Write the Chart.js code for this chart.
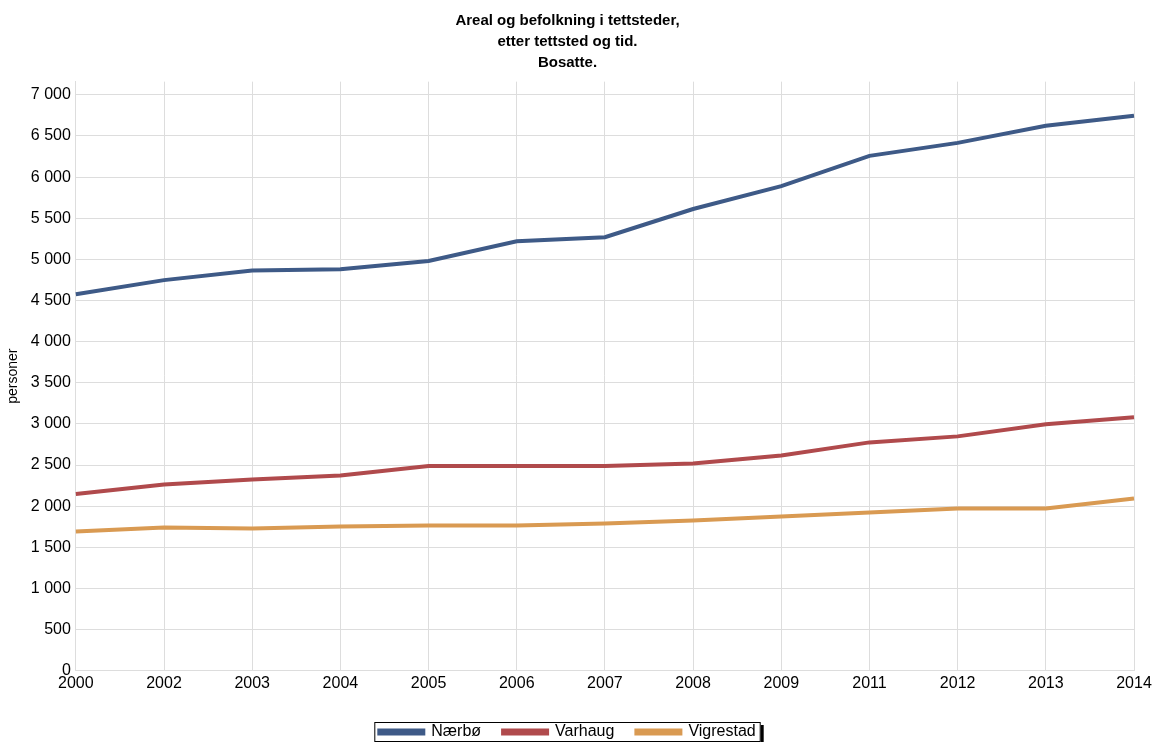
<!DOCTYPE html>
<html>
<head>
<meta charset="utf-8">
<script src="https://cdn.jsdelivr.net/npm/chart.js@4/dist/chart.umd.min.js"></script>
<style>
  html, body { margin: 0; padding: 0; background: #fff; }
  #wrap { width: 1156px; height: 742px; }
</style>
</head>
<body>
<div id="wrap"><canvas id="myChart" width="1156" height="742"></canvas></div>
<script>
var years = ["2000","2002","2003","2004","2005","2006","2007","2008","2009","2011","2012","2013","2014"];
var naerbo    = [4577, 4748, 4866, 4880, 4980, 5220, 5270, 5612, 5890, 6258, 6416, 6623, 6745];
var varhaug   = [2150, 2264, 2325, 2374, 2490, 2490, 2490, 2520, 2617, 2776, 2849, 2995, 3080];
var vigrestad = [1692, 1741, 1729, 1753, 1765, 1765, 1790, 1826, 1875, 1924, 1972, 1972, 2094];
var yTicks = [0, 500, 1000, 1500, 2000, 2500, 3000, 3500, 4000, 4500, 5000, 5500, 6000, 6500, 7000];

var font = "'Liberation Sans', Arial, sans-serif";

function fmt(v){
  return String(v).replace(/\B(?=(\d{3})+(?!\d))/g, " ");
}

// border round the legend, like the original
var legendBox = {
  id: "legendBox",
  afterDraw: function(chart){
    var boxes = chart.legend.legendHitBoxes;
    if(!boxes || !boxes.length) return;
    var x0 = boxes[0].left - 5, x1 = boxes[boxes.length-1].left + boxes[boxes.length-1].width + 4;
    var y0 = boxes[0].top - 2, h = boxes[0].height + 3;
    var ctx = chart.ctx;
    ctx.save();
    ctx.strokeStyle = "#000";
    ctx.lineWidth = 1;
    ctx.strokeRect(x0 + 0.5, y0 + 0.5, x1 - x0, h);
    ctx.fillStyle = "#000";
    ctx.fillRect(x1 + 1, y0 + 3, 3, h - 2);
    ctx.restore();
  }
};

var ctx = document.getElementById("myChart").getContext("2d");
var chart = new Chart(ctx, {
  type: "line",
  data: {
    labels: years,
    datasets: [{
      label: "Nærbø",
      data: naerbo,
      borderColor: "#3e5a87",
      backgroundColor: "#3e5a87",
      borderWidth: 4,
      pointRadius: 0,
      tension: 0
    }, {
      label: "Varhaug",
      data: varhaug,
      borderColor: "#b04a4c",
      backgroundColor: "#b04a4c",
      borderWidth: 4,
      pointRadius: 0,
      tension: 0
    }, {
      label: "Vigrestad",
      data: vigrestad,
      borderColor: "#d99a52",
      backgroundColor: "#d99a52",
      borderWidth: 4,
      pointRadius: 0,
      tension: 0
    }]
  },
  options: {
    responsive: false,
    animation: false,
    layout: { padding: { left: 1, right: 22, top: 2, bottom: -8 } },
    plugins: {
      title: {
        display: true,
        text: ["Areal og befolkning i tettsteder,", "etter tettsted og tid.", "Bosatte."],
        color: "#000",
        font: { family: font, size: 15, weight: "bold", lineHeight: 1.37 },
        padding: { top: 9, bottom: 9 }
      },
      legend: {
        position: "bottom",
        labels: {
          color: "#000",
          font: { family: font, size: 16 },
          boxWidth: 44,
          boxHeight: 3,
          padding: 22
        }
      },
      tooltip: { enabled: false }
    },
    scales: {
      x: {
        offset: false,
        grid: { color: "#dddddd", drawTicks: false },
        border: { color: "#dddddd" },
        ticks: { color: "#000", font: { family: font, size: 16 }, maxRotation: 0, padding: 3 },
        afterFit: function(scale){ scale.height += 6; }
      },
      y: {
        min: 0,
        max: 7160,
        afterBuildTicks: function(axis){
          axis.ticks = yTicks.map(function(v){ return { value: v }; });
        },
        grid: { color: "#dddddd", drawTicks: false },
        border: { color: "#dddddd" },
        title: { display: true, text: "personer", color: "#000", font: { family: font, size: 14 }, padding: 4 },
        ticks: {
          color: "#000",
          font: { family: font, size: 16 },
          padding: 5,
          callback: function(v){ return fmt(v); }
        }
      }
    }
  },
  plugins: [legendBox]
});
</script>
</body>
</html>
